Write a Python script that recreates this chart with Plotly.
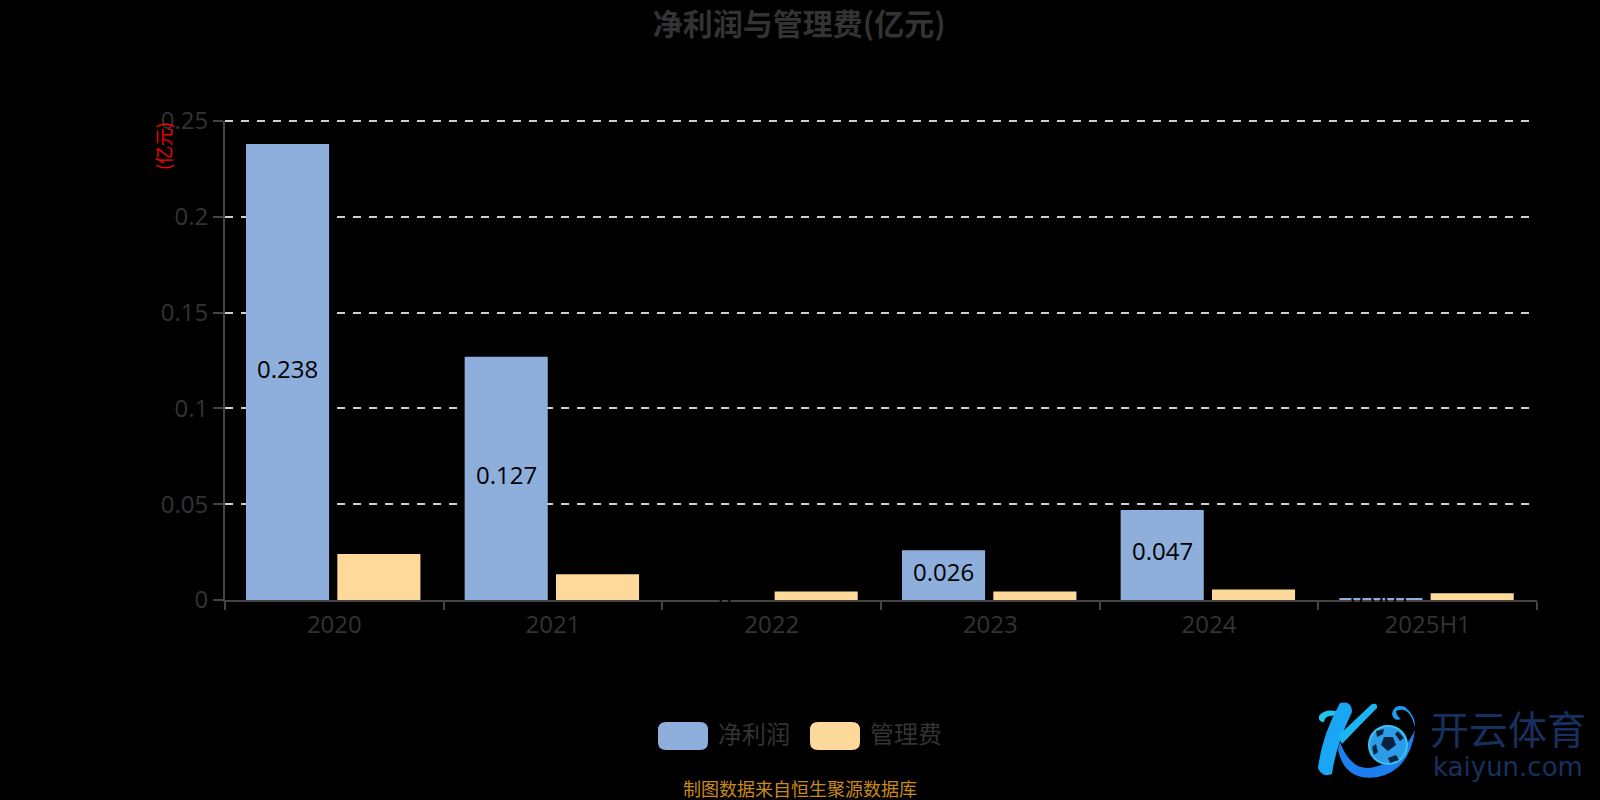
import plotly.graph_objects as go

categories = ["2020", "2021", "2022", "2023", "2024", "2025H1"]
net_profit = [0.238, 0.127, 0, 0.026, 0.047, 0.001]
admin_fee = [0.024, 0.0135, 0.0045, 0.0045, 0.0055, 0.0035]
y_ticks = [0, 0.05, 0.1, 0.15, 0.2, 0.25]
y_labels = ["0", "0.05", "0.1", "0.15", "0.2", "0.25"]
series_names = ["净利润", "管理费"]
series_colors = ["#8eaedb", "#ffd999"]

W, H = 1600, 800
L, R, T, B = 225, 63, 121, 200
SANS = "Open Sans, Noto Sans CJK SC, sans-serif"
CJK = "Noto Sans CJK SC, sans-serif"
INK = "#333333"

def px(x):
    return (x - L) / (W - L - R)

def py(y):
    return (H - B - y) / (H - T - B)

def path(points, close=True):
    parts = []
    for item in points:
        cmd, coords = item[0], item[1:]
        out = []
        for i in range(0, len(coords), 2):
            out.append(f"{px(coords[i]):.5f},{py(coords[i + 1]):.5f}")
        parts.append(cmd + " ".join(out))
    return " ".join(parts) + (" Z" if close else "")

def rounded(x0, y0, x1, y1, r):
    return path([
        ("M", x0 + r, y0), ("L", x1 - r, y0), ("Q", x1, y0, x1, y0 + r),
        ("L", x1, y1 - r), ("Q", x1, y1, x1 - r, y1), ("L", x0 + r, y1),
        ("Q", x0, y1, x0, y1 - r), ("L", x0, y0 + r), ("Q", x0, y0, x0 + r, y0),
    ])

fig = go.Figure()
fig.add_bar(x=categories, y=net_profit, name=series_names[0], marker_color=series_colors[0], marker_line_width=0,
            offset=-0.404, width=0.38)
fig.add_bar(x=categories, y=admin_fee, name=series_names[1], marker_color=series_colors[1], marker_line_width=0,
            offset=0.0136, width=0.38)

annotations = []
for i, v in enumerate(net_profit):
    annotations.append(dict(x=i, y=v / 2, xref="x", yref="y", xshift=-47, yshift=4,
                            text=f"{v:g}", showarrow=False,
                            font=dict(family=SANS, size=24, color="#000000")))

def label(x, y, text, size, color, family=CJK, angle=0, anchor="center"):
    annotations.append(dict(x=px(x), y=py(y), xref="paper", yref="paper", text=text, showarrow=False,
                            xanchor=anchor, yanchor="middle", textangle=angle,
                            font=dict(family=family, size=size, color=color)))

label(163, 146, "(亿元)", 18, "#ff0000", angle=-90)
label(716, 732, series_names[0], 24, INK, anchor="left")
label(868, 732, series_names[1], 24, INK, anchor="left")
label(800, 788, "制图数据来自恒生聚源数据库", 18, "#c98a1a")
label(1508, 727, "开云体育", 39, "#17305f")
label(1508, 767, "kaiyun.com", 26, "#17305f", family="DejaVu Sans, sans-serif")

shapes = [
    dict(type="line", xref="paper", yref="paper", x0=0, x1=1, y0=1, y1=1, layer="below",
         line=dict(color="#d0d0d0", width=2, dash="8px,8px")),
    dict(type="path", xref="paper", yref="paper", path=rounded(658, 722, 708, 750, 8),
         fillcolor=series_colors[0], line_width=0),
    dict(type="path", xref="paper", yref="paper", path=rounded(810, 722, 860, 750, 8),
         fillcolor=series_colors[1], line_width=0),
]

def blob(points, color):
    shapes.append(dict(type="path", xref="paper", yref="paper", path=path(points),
                       fillcolor=color, line_width=0))

# logo: stylised K with swirl and football
blob([("M", 1346, 714), ("Q", 1326, 706, 1319, 716), ("Q", 1318, 722, 1324, 722),
      ("Q", 1325, 714, 1338, 716), ("L", 1346, 720)], "#22c4ee")
blob([("M", 1340, 703), ("Q", 1352, 700, 1352, 712), ("Q", 1336, 745, 1332, 774),
      ("Q", 1322, 778, 1318, 768), ("Q", 1322, 735, 1340, 703)], "#19a6f5")
blob([("M", 1372, 704), ("Q", 1378, 703, 1377, 708), ("Q", 1360, 725, 1342, 744),
      ("L", 1338, 736), ("Q", 1355, 720, 1372, 704)], "#1bb5f3")
blob([("M", 1340, 742), ("Q", 1352, 775, 1378, 766), ("Q", 1400, 760, 1415, 730),
      ("Q", 1410, 770, 1378, 777), ("Q", 1345, 782, 1338, 750)], "#1c7ff0")
blob([("M", 1396, 711), ("Q", 1410, 705, 1415, 728), ("Q", 1416, 716, 1405, 707),
      ("Q", 1394, 703, 1392, 714), ("Q", 1394, 722, 1401, 719), ("Q", 1397, 717, 1396, 711)], "#1a9df2")
shapes.append(dict(type="circle", xref="paper", yref="paper", x0=px(1369), x1=px(1407), y0=py(764), y1=py(726),
                   fillcolor="#2e9be8", line=dict(color="#38c6ef", width=2)))
blob([("M", 1384, 737), ("L", 1393, 737), ("L", 1396, 745), ("L", 1388, 751), ("L", 1381, 745)], "#06243f")
blob([("M", 1376, 731), ("L", 1384, 729), ("L", 1383, 734), ("L", 1377, 737)], "#06243f")
blob([("M", 1398, 731), ("L", 1404, 738), ("L", 1400, 741), ("L", 1395, 734)], "#06243f")
blob([("M", 1372, 747), ("L", 1376, 744), ("L", 1378, 752), ("L", 1374, 755)], "#06243f")
blob([("M", 1388, 758), ("L", 1396, 755), ("L", 1399, 760), ("L", 1390, 763)], "#06243f")

fig.update_layout(
    width=W, height=H, autosize=False,
    margin=dict(l=L, r=R, t=T, b=B, pad=0),
    paper_bgcolor="#000000", plot_bgcolor="#000000",
    barmode="overlay",
    showlegend=False,
    title=dict(text="<b>净利润与管理费(亿元)</b>", x=0.4995, xanchor="center", y=1 - 24 / H, yanchor="middle",
               font=dict(family=CJK, size=30, color=INK)),
    xaxis=dict(type="category", categoryorder="array", categoryarray=categories, range=[-0.5, len(categories) - 0.5],
               tickson="boundaries", ticks="outside", ticklen=8, tickwidth=2, tickcolor="#444444", tickangle=0,
               ticklabelstandoff=2,
               showline=True, linecolor="#444444", linewidth=2, showgrid=False, zeroline=False,
               tickfont=dict(family=SANS, size=24, color=INK)),
    yaxis=dict(range=[0, 0.25], tickvals=y_ticks, ticktext=y_labels,
               ticks="outside", ticklen=10, tickwidth=2, tickcolor="#444444",
               showline=True, linecolor="#444444", linewidth=2, zeroline=False,
               showgrid=True, gridcolor="#d0d0d0", gridwidth=2, griddash="8px,8px",
               tickfont=dict(family=SANS, size=24, color=INK)),
    annotations=annotations,
    shapes=shapes,
)

fig.write_html("out.html", config=dict(displayModeBar=False),
               post_script="document.body.style.margin='0';document.body.style.overflow='hidden';")
